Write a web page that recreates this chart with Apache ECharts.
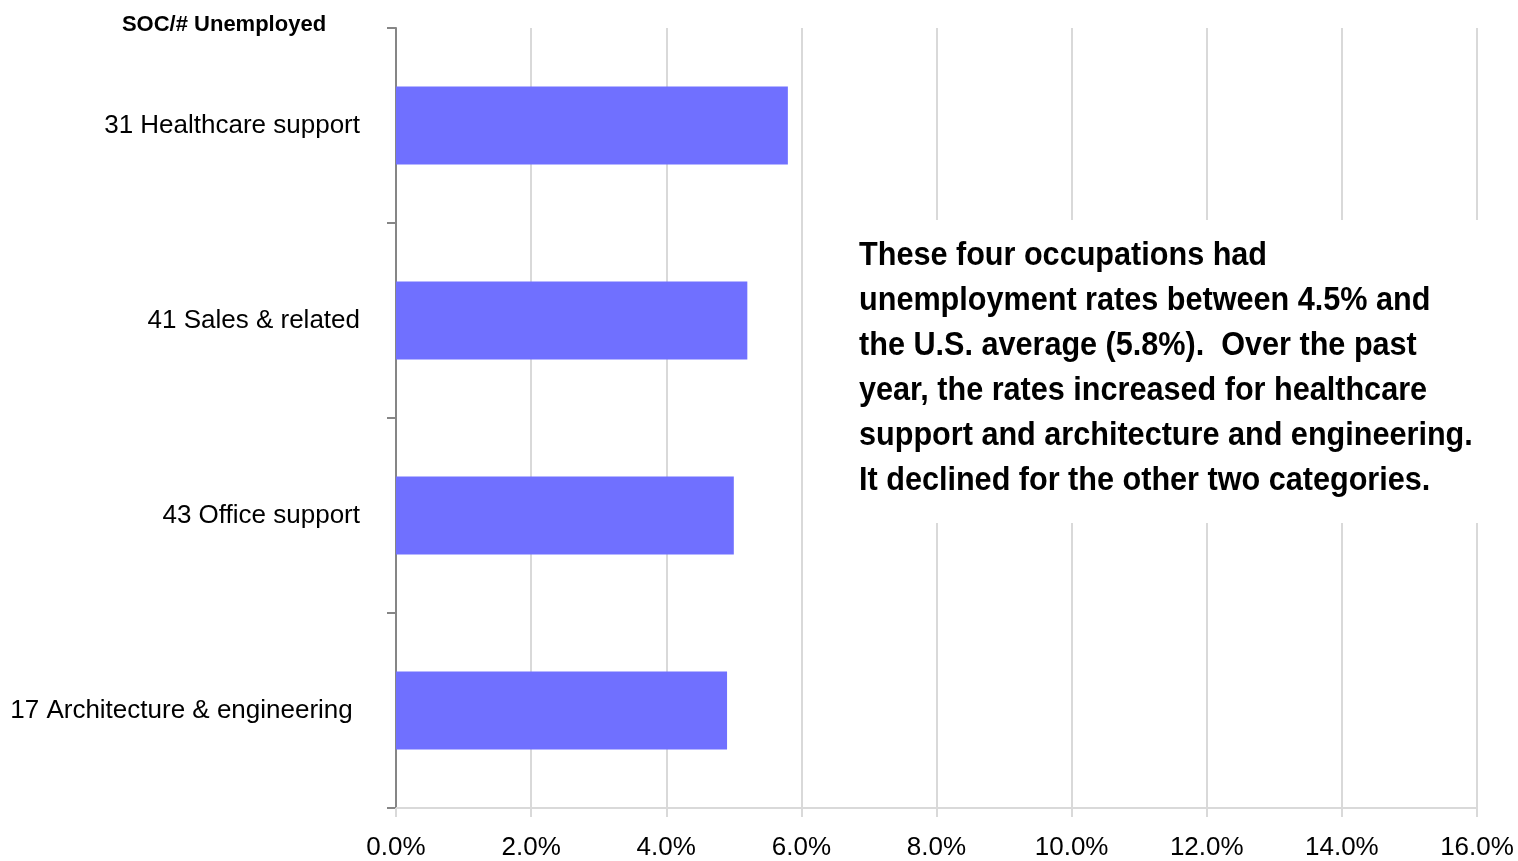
<!DOCTYPE html>
<html>
<head>
<meta charset="utf-8">
<script src="https://cdn.jsdelivr.net/npm/echarts@6/dist/echarts.min.js"></script>
<style>
  html, body { margin: 0; padding: 0; background: #fff; }
  #chart { width: 1518px; height: 861px; }
</style>
</head>
<body>
<div id="chart"></div>
<script>
// Occupation groups (SOC code + name), listed top to bottom
const categories = [
  '31 Healthcare support',
  '41 Sales & related',
  '43 Office support',
  '17 Architecture & engineering '
];
// Unemployment rate, percent
const rates = [5.8, 5.2, 5.0, 4.9];
// X-axis ticks, percent
const xTicks = [0, 2, 4, 6, 8, 10, 12, 14, 16];

const noteLines = [
  'These four occupations had',
  'unemployment rates between 4.5% and',
  'the U.S. average (5.8%).  Over the past',
  'year, the rates increased for healthcare',
  'support and architecture and engineering.',
  'It declined for the other two categories.'
];

const FONT = '"Liberation Sans Narrow", "Arial Narrow", "Liberation Sans", Arial, sans-serif';

const chart = echarts.init(document.getElementById('chart'), null, { renderer: 'canvas' });

chart.setOption({
  animation: false,
  backgroundColor: '#ffffff',
  title: {
    text: 'SOC/# Unemployed',
    left: 219,
    top: 9,
    textAlign: 'center',
    textStyle: { fontFamily: FONT, fontSize: 22, fontWeight: 'bold', color: '#000' }
  },
  grid: { left: 396, right: 41, top: 28, bottom: 53, containLabel: false, outerBoundsMode: 'none' },
  xAxis: {
    type: 'value',
    min: xTicks[0],
    max: xTicks[xTicks.length - 1],
    interval: 2,
    axisLine: { show: true, lineStyle: { color: '#d9d9d9', width: 2 } },
    axisTick: { show: true, length: 9, lineStyle: { color: '#d9d9d9', width: 2 } },
    splitLine: { show: true, lineStyle: { color: '#d9d9d9', width: 2 } },
    axisLabel: {
      fontFamily: FONT, fontSize: 26, color: '#000', margin: 27,
      formatter: v => v.toFixed(1) + '%'
    }
  },
  yAxis: {
    type: 'category',
    inverse: true,
    data: categories,
    axisLine: { show: true, lineStyle: { color: '#868686', width: 2 } },
    axisTick: { show: true, length: 9, lineStyle: { color: '#868686', width: 2 } },
    axisLabel: { fontFamily: FONT, fontSize: 26, color: '#000', margin: 36 }
  },
  series: [{
    type: 'bar',
    data: rates,
    barWidth: '40%',
    itemStyle: { color: '#7070ff' }
  }],
  graphic: [
    {
      type: 'rect',
      shape: { x: 850, y: 220, width: 640, height: 303 },
      style: { fill: '#ffffff' },
      z: 100
    },
    {
      type: 'text',
      x: 859,
      y: 233,
      scaleX: 0.9,
      z: 101,
      style: {
        text: noteLines.join('\n'),
        font: 'bold 34px ' + FONT,
        lineHeight: 45,
        fill: '#000'
      }
    }
  ]
});
</script>
</body>
</html>
